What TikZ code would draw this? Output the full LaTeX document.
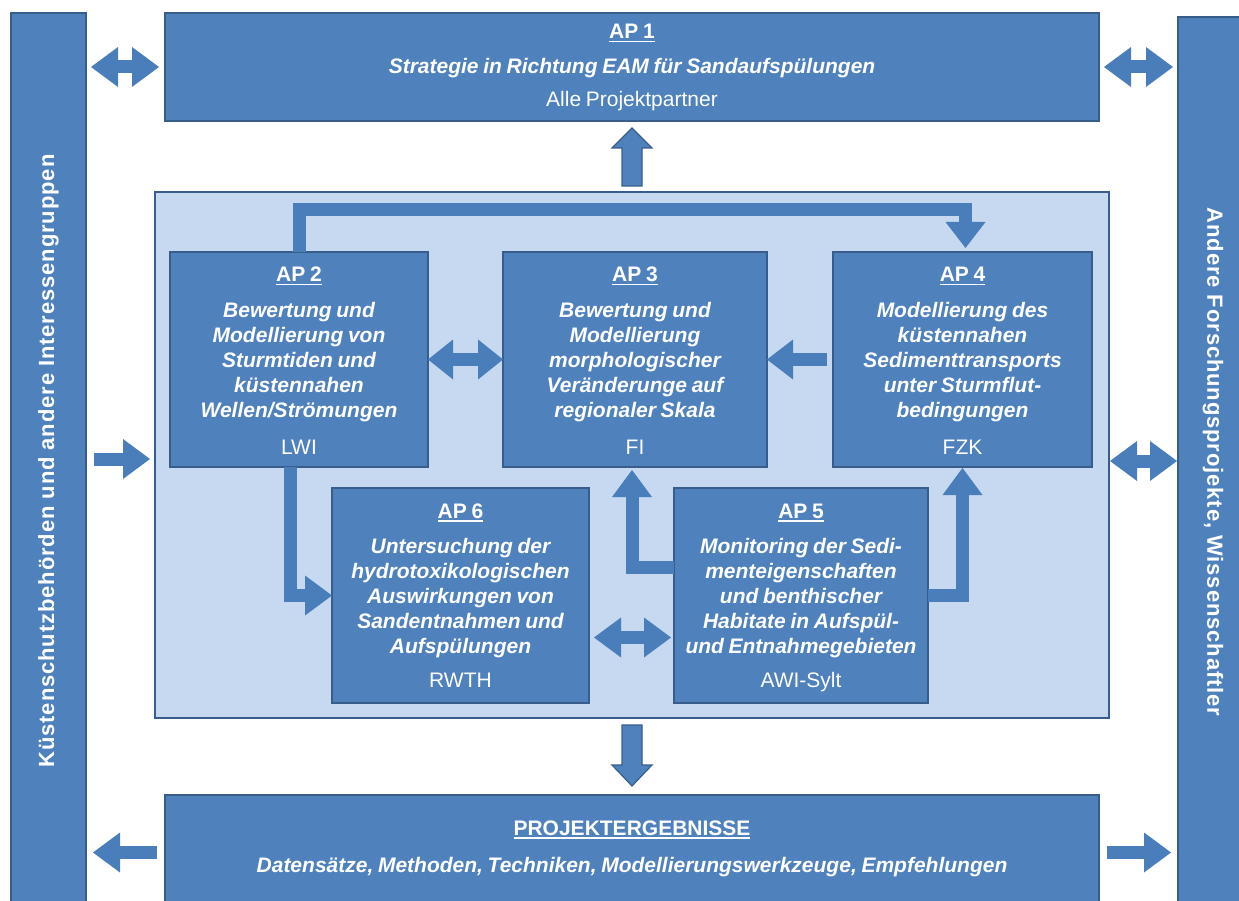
\documentclass[tikz,border=0pt]{standalone}
\usepackage{fontspec}
\setmainfont{Liberation Sans}[WordSpace=0.8]
\newfontfamily\barfont{Liberation Sans}[LetterSpace=4]
\usetikzlibrary{calc}
\definecolor{boxblue}{HTML}{4F81BD}
\definecolor{edgeblue}{HTML}{385D8A}
\definecolor{lightblue}{HTML}{C6D9F1}
\definecolor{arrowblue}{HTML}{4A7EBB}
\newcommand\apul[1]{\setbox0\hbox{#1}\rlap{\rule[-3.5pt]{\wd0}{1.6pt}}\box0}
\newcommand\headR[2]{\fill[head] (#1) -- ++(-#2,-20) -- ++(0,40) -- cycle;}
\newcommand\headL[2]{\fill[head] (#1) -- ++(#2,-20) -- ++(0,40) -- cycle;}
\newcommand\headU[2]{\fill[head] (#1) -- ++(-20,#2) -- ++(40,0) -- cycle;}
\newcommand\headD[2]{\fill[head] (#1) -- ++(-20,-#2) -- ++(40,0) -- cycle;}
\tikzset{
  box/.style={rectangle, draw=edgeblue, line width=2.5pt, fill=boxblue, inner sep=0pt, outer sep=0pt, anchor=north west},
  bigbox/.style={rectangle, draw=edgeblue, line width=2.5pt, fill=lightblue, inner sep=0pt, outer sep=0pt, anchor=north west},
  shaft/.style={draw=arrowblue, line width=13pt, line join=miter, line cap=butt},
  head/.style={fill=arrowblue},
  blockarrow/.style={fill=boxblue, draw=edgeblue, line width=1.2pt, line join=miter},
  ttl/.style={text=white, inner sep=0pt, anchor=base, font=\fontsize{21}{25}\selectfont\bfseries},
  body/.style={text=white, inner sep=0pt, anchor=north, align=center, font=\fontsize{21}{25}\selectfont\bfseries\itshape},
  bodyline/.style={text=white, inner sep=0pt, anchor=base, font=\fontsize{21}{25}\selectfont\bfseries\itshape},
  foot/.style={text=white, inner sep=0pt, anchor=base, font=\fontsize{21}{25}\selectfont},
  bartext/.style={text=white, inner sep=0pt, font=\barfont\fontsize{22}{26}\selectfont\bfseries},
}
\begin{document}
\begin{tikzpicture}[x=1pt,y=-1pt]
\useasboundingbox (0,0) rectangle (1239,901);
% frames
\node[box, minimum width=75pt, minimum height=892pt] (leftbar) at (11,13) {};
\node[box, minimum width=70pt, minimum height=888pt] (rightbar) at (1178,17) {};
\node[box, minimum width=934pt, minimum height=108pt] (ap1) at (165,13) {};
\node[bigbox, minimum width=954pt, minimum height=526pt] (big) at (155,192) {};
\node[box, minimum width=934pt, minimum height=115pt] (res) at (165,795) {};
\node[box, minimum width=258pt, minimum height=215pt] (ap2) at (170,252) {};
\node[box, minimum width=264pt, minimum height=215pt] (ap3) at (503,252) {};
\node[box, minimum width=259pt, minimum height=215pt] (ap4) at (833,252) {};
\node[box, minimum width=257pt, minimum height=215pt] (ap6) at (332,488) {};
\node[box, minimum width=254pt, minimum height=215pt] (ap5) at (674,488) {};

% bar texts
\node[bartext, rotate=90] (lbt) at ($(leftbar.center)+(0,2)$) {Küstenschutzbehörden und andere Interessengruppen};
\node[bartext, rotate=-90] (rbt) at ($(rightbar.center)+(0,1)$) {Andere Forschungsprojekte, Wissenschaftler};

% AP1 texts
\node[ttl] (ap1t) at ($(ap1.north)+(0,26)$) {\apul{AP 1}};
\node[bodyline] (ap1b) at ($(ap1.north)+(0,61)$) {Strategie in Richtung EAM für Sandaufspülungen};
\node[foot] (ap1f) at ($(ap1.north)+(0,94)$) {Alle Projektpartner};

% results texts
\node[ttl] (rest) at ($(res.north)+(0,40)$) {\apul{PROJEKTERGEBNISSE}};
\node[bodyline] (resb) at ($(res.north)+(0,77)$) {Datensätze, Methoden, Techniken, Modellierungswerkzeuge, Empfehlungen};

% AP boxes texts
\node[ttl] (ap2t) at ($(ap2.north)+(0,30)$) {\apul{AP 2}};
\node[body] (ap2b) at ($(ap2.north)+(0,50)$) {\rule{0pt}{15.5pt}Bewertung und\\Modellierung von\\Sturmtiden und\\küstennahen\\Wellen/Strömungen};
\node[foot] (ap2f) at ($(ap2.south)+(0,-13)$) {LWI};

\node[ttl] (ap3t) at ($(ap3.north)+(0,30)$) {\apul{AP 3}};
\node[body] (ap3b) at ($(ap3.north)+(0,50)$) {\rule{0pt}{15.5pt}Bewertung und\\Modellierung\\morphologischer\\Veränderunge auf\\regionaler Skala};
\node[foot] (ap3f) at ($(ap3.south)+(0,-13)$) {FI};

\node[ttl] (ap4t) at ($(ap4.north)+(0,30)$) {\apul{AP 4}};
\node[body] (ap4b) at ($(ap4.north)+(0,50)$) {\rule{0pt}{15.5pt}Modellierung des\\küstennahen\\Sedimenttransports\\unter Sturmflut-\\bedingungen};
\node[foot] (ap4f) at ($(ap4.south)+(0,-13)$) {FZK};

\node[ttl] (ap6t) at ($(ap6.north)+(0,30)$) {\apul{AP 6}};
\node[body] (ap6b) at ($(ap6.north)+(0,50)$) {\rule{0pt}{15.5pt}Untersuchung der\\hydrotoxikologischen\\Auswirkungen von\\Sandentnahmen und\\Aufspülungen};
\node[foot] (ap6f) at ($(ap6.south)+(0,-16)$) {RWTH};

\node[ttl] (ap5t) at ($(ap5.north)+(0,30)$) {\apul{AP 5}};
\node[body] (ap5b) at ($(ap5.north)+(0,50)$) {\rule{0pt}{15.5pt}Monitoring der Sedi-\\menteigenschaften\\und benthischer\\Habitate in Aufspül-\\und Entnahmegebieten};
\node[foot] (ap5f) at ($(ap5.south)+(0,-16)$) {AWI-Sylt};

% outer arrows
\coordinate (t1a) at ($(leftbar.east|-ap1.center)+(5,0)$);
\coordinate (t1b) at ($(ap1.west)+(-6,0)$);
\draw[shaft] ($(t1a)+(26,0)$) -- ($(t1b)+(-26,0)$);
\headL{t1a}{27}\headR{t1b}{27}

\coordinate (t2a) at ($(ap1.east)+(5,0)$);
\coordinate (t2b) at ($(rightbar.west|-ap1.center)+(-5,0)$);
\draw[shaft] ($(t2a)+(26,0)$) -- ($(t2b)+(-26,0)$);
\headL{t2a}{27}\headR{t2b}{27}

\coordinate (m1a) at ($(leftbar.east)+(8,0)$);
\coordinate (m1b) at ($(big.west|-leftbar.east)+(-5,0)$);
\draw[shaft] (m1a) -- ($(m1b)+(-26,0)$);
\headR{m1b}{27}

\coordinate (m2a) at ($(big.east|-rightbar.west)+(1,0)$);
\coordinate (m2b) at ($(rightbar.west)+(-1,0)$);
\draw[shaft] ($(m2a)+(26,0)$) -- ($(m2b)+(-26,0)$);
\headL{m2a}{27}\headR{m2b}{27}

\coordinate (b1a) at ($(leftbar.east|-res.west)+(7,0)$);
\coordinate (b1b) at ($(res.west)+(-8,0)$);
\draw[shaft] ($(b1a)+(26,0)$) -- (b1b);
\headL{b1a}{27}

\coordinate (b2a) at ($(res.east)+(8,0)$);
\coordinate (b2b) at ($(rightbar.west|-res.east)+(-7,0)$);
\draw[shaft] (b2a) -- ($(b2b)+(-26,0)$);
\headR{b2b}{27}

% up arrow to AP1, down arrow to results
\coordinate (u1) at ($(ap1.south)+(0,7)$);
\draw[blockarrow] (u1) -- ++(20,20) -- ++(-10,0) -- ++(0,38) -- ++(-20,0) -- ++(0,-38) -- ++(-10,0) -- cycle;
\coordinate (d1) at ($(res.north)+(0,-9)$);
\draw[blockarrow] (d1) -- ++(20,-21) -- ++(-10,0) -- ++(0,-40) -- ++(-20,0) -- ++(0,40) -- ++(-10,0) -- cycle;

% inner arrows
\draw[shaft] ($(ap2.east)+(24,0)$) -- ($(ap3.west)+(-24,0)$);
\headL{ap2.east}{25}\headR{ap3.west}{25}

\draw[shaft] ($(ap4.west)+(-6,0)$) -- ($(ap3.east)+(25,0)$);
\headL{ap3.east}{26}

\coordinate (i6) at ($(ap6.east)+(5,42)$);
\coordinate (i5) at ($(ap5.west)+(-3,42)$);
\draw[shaft] ($(i6)+(26,0)$) -- ($(i5)+(-26,0)$);
\headL{i6}{27}\headR{i5}{27}

\coordinate (k4) at ($(ap4.north)+(3,-4)$);
\draw[shaft] (ap2.north) -- ++(0,-42) -| ($(k4)+(0,-25)$);
\headD{k4}{26}

\draw[shaft] ($(ap2.south)+(-9,0)$) |- ($(ap6.west)+(-26,0)$);
\headR{ap6.west}{27}

\coordinate (k3) at ($(ap3.south)+(-3,3)$);
\draw[shaft] ($(ap5.west)+(0,-28)$) -| ($(k3)+(0,26)$);
\headU{k3}{27}

\coordinate (k5) at ($(ap4.south)+(0,1)$);
\draw[shaft] (ap5.east) -| ($(k5)+(0,26)$);
\headU{k5}{27}
\end{tikzpicture}
\end{document}
